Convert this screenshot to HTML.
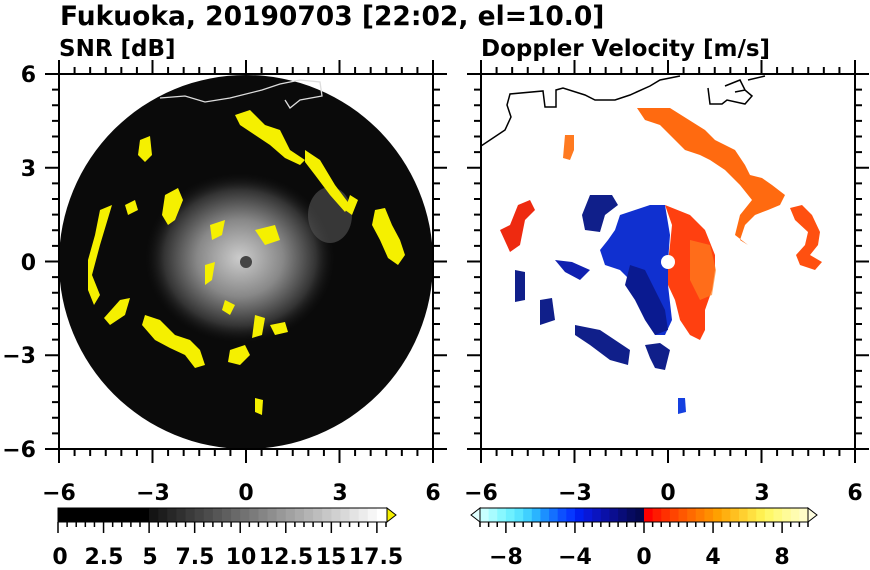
<!DOCTYPE html>
<html><head><meta charset="utf-8"><style>
body{margin:0;background:#fff;}
svg{display:block;font-family:"DejaVu Sans","Liberation Sans",sans-serif;font-weight:bold;}
</style></head><body>
<svg width="870" height="570" viewBox="0 0 870 570" xmlns="http://www.w3.org/2000/svg">
<defs>
<radialGradient id="core" cx="0.5" cy="0.5" r="0.5">
<stop offset="0" stop-color="#ccc"/><stop offset="0.45" stop-color="#888"/><stop offset="0.8" stop-color="#333"/><stop offset="1" stop-color="#111" stop-opacity="0"/>
</radialGradient>
<clipPath id="cl"><rect x="59" y="74" width="374" height="375"/></clipPath>
<clipPath id="cr"><rect x="481" y="74" width="374" height="375"/></clipPath>
</defs>
<text x="60" y="25" font-size="26.5">Fukuoka, 20190703 [22:02, el=10.0]</text>
<text x="59" y="56" font-size="23">SNR [dB]</text>
<text x="481" y="56" font-size="23">Doppler Velocity [m/s]</text>

<g clip-path="url(#cl)">
<circle cx="246" cy="262" r="187" fill="#0a0a0a"/>
<ellipse cx="240" cy="258" rx="95" ry="85" fill="url(#core)"/>
<ellipse cx="330" cy="215" rx="22" ry="28" fill="#555" opacity="0.6"/>
<circle cx="246" cy="262" r="6" fill="#444"/>
<path d="M160 98 L185 96 L205 102 L230 98 L262 90 L280 84 L300 80 L320 82 L322 96 L300 100 L290 108 L285 100" fill="none" stroke="#ddd" stroke-width="1.3"/>
<g fill="#f5f000">
<path d="M235 115 L250 110 L265 125 L280 130 L290 150 L305 160 L300 165 L285 158 L270 145 L255 135 L240 125Z"/>
<path d="M305 150 L320 160 L335 185 L350 205 L345 212 L330 195 L315 175 L305 162Z"/>
<path d="M350 195 L358 200 L352 215 L345 210Z"/>
<path d="M375 210 L385 208 L392 225 L400 240 L405 255 L398 265 L388 258 L380 240 L372 225Z"/>
<path d="M165 195 L178 188 L183 200 L175 220 L168 225 L162 215Z"/>
<path d="M140 140 L150 136 L152 155 L145 162 L138 155Z"/>
<path d="M100 210 L112 205 L106 225 L100 245 L92 275 L100 295 L94 305 L88 290 L88 260 L95 235Z"/>
<path d="M120 300 L130 298 L125 315 L110 325 L104 318Z"/>
<path d="M145 315 L160 320 L175 335 L190 340 L200 350 L205 365 L195 368 L185 355 L170 348 L155 340 L142 325Z"/>
<path d="M230 350 L245 345 L250 355 L240 365 L228 362Z"/>
<path d="M255 315 L265 318 L262 335 L252 338Z"/>
<path d="M270 325 L285 322 L288 332 L275 335Z"/>
<path d="M255 398 L263 400 L262 415 L255 412Z"/>
<path d="M210 225 L225 220 L222 235 L212 240Z"/>
<path d="M255 230 L275 225 L280 240 L265 245Z"/>
<path d="M205 265 L215 262 L212 280 L205 285Z"/>
<path d="M225 300 L235 305 L230 315 L222 310Z"/>
<path d="M125 205 L135 200 L138 210 L128 215Z"/>
</g>
</g>
<rect x="59" y="74" width="374" height="375" fill="none" stroke="#000" stroke-width="2"/>

<g clip-path="url(#cr)">
<path d="M481 146 L505 130 L511 117 L507 105 L510 94 L543 91 L545 107 L556 107 L556 90 L563 88 L585 95 L595 100 L615 100 L630 95 L650 86 L660 80 L680 76 M708 88 L710 104 L722 104 L727 100 L745 104 L752 96 L745 90 L735 92 M725 86 L740 80 L745 90 M748 80 L765 76" fill="none" stroke="#000" stroke-width="1.5"/>
<path d="M637 108 L670 108 L705 130 L715 140 L735 150 L745 165 L750 175 L762 178 L772 185 L785 195 L780 205 L768 210 L755 215 L745 225 L740 240 L748 245 L735 235 L740 215 L752 200 L740 185 L725 170 L710 160 L700 155 L685 150 L675 140 L660 125 L645 120Z" fill="#ff6a10"/>
<path d="M790 208 L802 205 L812 215 L820 232 L818 245 L810 255 L822 262 L815 270 L800 265 L796 255 L805 245 L808 232 L795 220Z" fill="#ff5010"/>
<path d="M565 135 L574 135 L574 150 L570 160 L563 158Z" fill="#ff7a20"/>
<path d="M665 205 L690 215 L705 230 L715 255 L715 270 L712 290 L705 310 L705 330 L700 340 L690 335 L680 320 L675 300 L668 285 L668 262 L670 245 L672 225Z" fill="#ff4010"/>
<path d="M690 240 L710 245 L716 270 L712 295 L700 300 L690 280Z" fill="#ff8020" opacity="0.7"/>
<path d="M665 205 L650 205 L635 210 L620 215 L615 230 L608 240 L600 250 L605 265 L620 270 L630 280 L640 300 L650 320 L655 335 L665 335 L672 320 L668 285 L668 262 L670 235Z" fill="#1030d0"/>
<path d="M630 265 L645 270 L655 290 L665 310 L668 330 L655 335 L645 320 L635 300 L625 285Z" fill="#0a1a90"/>
<path d="M590 195 L612 195 L618 205 L605 215 L600 232 L585 230 L582 215Z" fill="#101f8a"/>
<path d="M555 260 L572 262 L590 270 L580 280 L565 272Z" fill="#1020b0"/>
<path d="M500 230 L510 225 L518 205 L530 200 L535 210 L525 220 L520 245 L510 252Z" fill="#ee2a10"/>
<path d="M515 270 L525 272 L525 300 L515 302Z" fill="#101f8a"/>
<path d="M540 300 L552 298 L555 320 L540 325Z" fill="#101f8a"/>
<path d="M575 325 L600 330 L615 340 L630 350 L628 365 L610 360 L590 345 L575 335Z" fill="#101f8a"/>
<path d="M645 345 L660 343 L670 350 L665 370 L655 368 L650 358Z" fill="#101f8a"/>
<path d="M678 398 L685 398 L686 412 L678 414Z" fill="#1540e0"/>
<circle cx="668" cy="262" r="7" fill="#fff"/>
</g>
<rect x="481" y="74" width="374" height="375" fill="none" stroke="#000" stroke-width="2"/>

<g stroke="#000" stroke-width="2" id="ticks"></g>

<g font-size="22" text-anchor="middle">
<text x="59" y="500">−6</text><text x="153" y="500">−3</text><text x="246" y="500">0</text><text x="340" y="500">3</text><text x="433" y="500">6</text>
<text x="481" y="500">−6</text><text x="575" y="500">−3</text><text x="668" y="500">0</text><text x="762" y="500">3</text><text x="855" y="500">6</text>
</g>
<g font-size="22" text-anchor="end">
<text x="36" y="82">6</text><text x="36" y="176">3</text><text x="36" y="270">0</text><text x="36" y="363">−3</text><text x="36" y="457">−6</text>
</g>

<g id="cb"></g>
<g font-size="22" text-anchor="middle">
<text x="60" y="564">0</text><text x="104" y="564">2.5</text><text x="150" y="564">5</text><text x="195" y="564">7.5</text><text x="241" y="564">10</text><text x="286" y="564">12.5</text><text x="331" y="564">15</text><text x="376" y="564">17.5</text>
<text x="506" y="564">−8</text><text x="575" y="564">−4</text><text x="644" y="564">0</text><text x="713" y="564">4</text><text x="782" y="564">8</text>
</g>
<script>
var ns="http://www.w3.org/2000/svg",t=document.getElementById("ticks");
function L(x1,y1,x2,y2,w){var l=document.createElementNS(ns,"line");l.setAttribute("x1",x1);l.setAttribute("y1",y1);l.setAttribute("x2",x2);l.setAttribute("y2",y2);if(w)l.setAttribute("stroke-width",w);t.appendChild(l);}
[59,481].forEach(function(x0){var s=374/12;for(var i=0;i<=24;i++){var p=i*s/2,m=(i%6==0),len=m?14:7;
L(x0+p,74,x0+p,74-len);L(x0+p,449,x0+p,449+len);
L(x0,74+p*375/374,x0-len,74+p*375/374);L(x0+374,74+p*375/374,x0+374+len,74+p*375/374);}});
var cb=document.getElementById("cb");
function R(x,y,w,h,f){var r=document.createElementNS(ns,"rect");r.setAttribute("x",x);r.setAttribute("y",y);r.setAttribute("width",w);r.setAttribute("height",h);r.setAttribute("fill",f);cb.appendChild(r);}
function P(d,f){var p=document.createElementNS(ns,"path");p.setAttribute("d",d);p.setAttribute("fill",f);p.setAttribute("stroke","#000");p.setAttribute("stroke-width","1");cb.appendChild(p);}
var w=328/36;for(var i=0;i<36;i++){var v=i<10?0:Math.round(20+(i-10)*(235/25));R(58+i*w,508,w+0.5,14,"rgb("+v+","+v+","+v+")");}
P("M387 508 L396 515 L387 522Z","#f5f000");
var cols=["#c8ffff","#a8fcff","#88f8ff","#6ef0ff","#58e4ff","#40d0ff","#2ab4ff","#1c90ff","#1470ff","#0c50ff","#0638ff","#0020f0","#0818d8","#0a14c0","#0a10a8","#0a0e90","#080c78","#060a60","#040850",
"#ff0000","#ff1a00","#ff3000","#ff4400","#ff5800","#ff6a00","#ff7c00","#ff8e00","#ffa000","#ffb010","#ffc020","#ffd030","#ffe040","#fff050","#fff868","#fffa80","#fffb98","#fffcb0","#fffdc8"];
var w2=328/38;for(var i=0;i<38;i++)R(480+i*w2,508,w2+0.5,14,cols[i]);
P("M480 508 L471 515 L480 522Z","#e0ffff");P("M808 508 L817 515 L808 522Z","#fffee0");
var b=document.createElementNS(ns,"rect");b.setAttribute("x",58);b.setAttribute("y",508);b.setAttribute("width",329);b.setAttribute("height",14);b.setAttribute("fill","none");b.setAttribute("stroke","#000");cb.appendChild(b);
var b2=b.cloneNode();b2.setAttribute("x",480);b2.setAttribute("width",328);cb.appendChild(b2);
for(var i=0;i<=36;i++){var x=58+i*w;L(x,522,x,i%5==0?533:527,1.5);}
for(var i=0;i<=38;i++){var x=480+i*w2;L(x,522,x,(i-3)%8==0&&i>=3?533:527,1.5);}
</script>
</svg>
</body></html>
